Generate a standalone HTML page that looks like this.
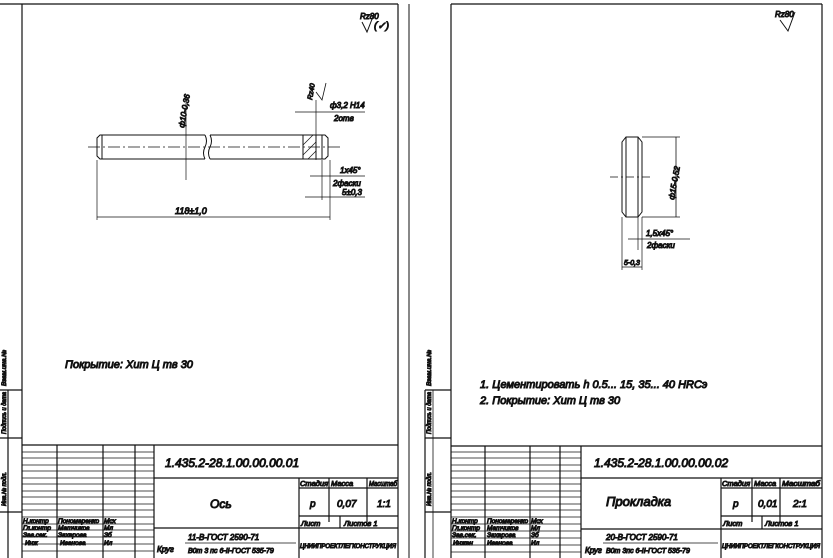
<!DOCTYPE html>
<html><head><meta charset="utf-8"><style>
html,body{margin:0;padding:0;background:#fff;}
svg{display:block;}
text{font-family:"Liberation Sans",sans-serif;font-style:italic;fill:#111;}
</style></head><body>
<svg width="833" height="558" viewBox="0 0 833 558" xmlns="http://www.w3.org/2000/svg" stroke="#111" fill="none">
<!-- LEFT SHEET -->
<g stroke-width="1.2">
<line x1="0" y1="4" x2="398" y2="4"/>
<line x1="22" y1="4" x2="22" y2="558"/>
<line x1="398" y1="4" x2="398" y2="558"/>
<line x1="409" y1="4" x2="409" y2="558" stroke-width="1"/>
<line x1="0" y1="390" x2="22" y2="390"/>
<line x1="8" y1="390" x2="8" y2="558"/>
<line x1="0" y1="438" x2="22" y2="438"/>
<line x1="0" y1="512" x2="22" y2="512"/>
<line x1="22" y1="445" x2="398" y2="445"/>
<line x1="57" y1="445" x2="57" y2="558"/>
<line x1="103" y1="445" x2="103" y2="558"/>
<line x1="135" y1="445" x2="135" y2="558"/>
<line x1="154" y1="445" x2="154" y2="558"/>
<line x1="154" y1="478" x2="398" y2="478"/>
<line x1="154" y1="528" x2="299" y2="528"/>
<line x1="299" y1="478" x2="299" y2="558"/>
<line x1="329" y1="478" x2="329" y2="522"/>
<line x1="367" y1="478" x2="367" y2="522"/>
<line x1="299" y1="488" x2="398" y2="488"/>
<line x1="299" y1="516" x2="398" y2="516"/>
<line x1="299" y1="528" x2="398" y2="528"/>
<line x1="340" y1="516" x2="340" y2="528"/>
</g>
<g stroke-width="0.8">
<line x1="22" y1="452" x2="154" y2="452"/><line x1="22" y1="458" x2="154" y2="458"/>
<line x1="22" y1="465" x2="154" y2="465"/><line x1="22" y1="471" x2="154" y2="471"/>
<line x1="22" y1="478" x2="154" y2="478"/><line x1="22" y1="484" x2="154" y2="484"/>
<line x1="22" y1="491" x2="154" y2="491"/><line x1="22" y1="497" x2="154" y2="497"/>
<line x1="22" y1="504" x2="154" y2="504"/><line x1="22" y1="510" x2="154" y2="510"/>
<line x1="22" y1="517" x2="154" y2="517"/><line x1="22" y1="524" x2="154" y2="524"/>
<line x1="22" y1="530" x2="154" y2="530"/><line x1="22" y1="537" x2="154" y2="537"/>
<line x1="22" y1="544" x2="154" y2="544"/><line x1="22" y1="551" x2="154" y2="551"/>
</g>
<text x="165" y="467" font-size="12">1.435.2-28.1.00.00.00.01</text>
<text x="210" y="508" font-size="12">Ось</text>
<text x="300" y="486" font-size="7.5">Стадия</text><text x="331" y="486" font-size="7.5">Масса</text><text x="369" y="486" font-size="7" textLength="28" lengthAdjust="spacingAndGlyphs">Масштаб</text>
<text x="310" y="507" font-size="10">р</text><text x="337" y="507" font-size="10">0,07</text><text x="377" y="507" font-size="10">1:1</text>
<text x="301" y="526" font-size="7.5">Лист</text><text x="344" y="526" font-size="7.5">Листов 1</text>
<text x="300" y="548" font-size="6" textLength="96" lengthAdjust="spacingAndGlyphs">ЦНИИПРОЕКТЛЕГКОНСТРУКЦИЯ</text>
<text x="157" y="552" font-size="8">Круг</text>
<text x="188" y="540" font-size="8">11-В-ГОСТ 2590-71</text>
<line x1="185" y1="543" x2="296" y2="543" stroke-width="0.8"/>
<text x="188" y="553" font-size="7">В0т 3 пс 6-II-ГОСТ 535-79</text>
<g font-size="6.5"><text x="23" y="523">Н.контр</text><text x="58" y="523">Пономаренко</text><text x="104" y="523">Мсх</text>
<text x="23" y="530">Гл.контр</text><text x="58" y="530">Матчиков</text><text x="104" y="530">Мл</text>
<text x="23" y="537">Зав.сек.</text><text x="58" y="537">Захарова</text><text x="104" y="537">Зб</text>
<text x="25" y="545">Инж</text><text x="60" y="545">Иванова</text><text x="104" y="545">Ил</text></g>
<g font-size="6"><text transform="translate(6,434) rotate(-90)" textLength="42" lengthAdjust="spacingAndGlyphs">Подпись и дата</text>
<text transform="translate(6,506) rotate(-90)" textLength="34" lengthAdjust="spacingAndGlyphs">Инв.№ подл.</text>
<text transform="translate(6,386) rotate(-90)" textLength="36" lengthAdjust="spacingAndGlyphs">Взам.инв.№</text></g>
<text x="360" y="19" font-size="8">Rz80</text>
<path d="M362 22 L367 32 L374 14" stroke-width="1"/>
<text x="374" y="29" font-size="10">(✓)</text>
<text x="65" y="368" font-size="11">Покрытие:  Хит Ц  тв 30</text>
<!-- shaft -->
<g stroke-width="1">
<path d="M205 135 L100 135 L97 138 L97 156 L100 159 L205 159"/>
<path d="M210 135 L325 135 L328 138 L328 156 L325 159 L210 159"/>
<path d="M205 135 q3 6 0 12 q-3 6 0 12 M210 135 q3 6 0 12 q-3 6 0 12"/>
<line x1="102" y1="135" x2="102" y2="159"/>
<line x1="322" y1="135" x2="322" y2="159"/>
<rect x="303" y="135" width="13" height="24"/>
<path d="M303 145 L313 135 M303 155 L316 142 M308 159 L316 151" stroke-width="0.7"/>
<line x1="88" y1="147" x2="340" y2="147" stroke-dasharray="12,3,2,3" stroke-width="0.7"/>
<line x1="186" y1="100" x2="186" y2="180" stroke-width="0.7"/>
<line x1="97" y1="160" x2="97" y2="220" stroke-width="0.7"/>
<line x1="330" y1="160" x2="330" y2="220" stroke-width="0.7"/>
<line x1="97" y1="217" x2="330" y2="217" stroke-width="0.8"/>
<line x1="316" y1="100" x2="316" y2="160" stroke-width="0.7"/>
<line x1="322" y1="160" x2="322" y2="200" stroke-width="0.7"/>
<line x1="295" y1="112" x2="365" y2="112" stroke-width="0.7"/>
<line x1="310" y1="176" x2="365" y2="176" stroke-width="0.7"/>
<line x1="305" y1="197" x2="365" y2="197" stroke-width="0.7"/>
<path d="M316 92 L322 100 L326 83" stroke-width="0.8"/>
</g>
<text x="175" y="214" font-size="9">118±1,0</text>
<text transform="translate(184,128) rotate(-80)" font-size="8">ф10-0,36</text>
<text transform="translate(312,100) rotate(-80)" font-size="7">Rz40</text>
<text x="330" y="108" font-size="8">ф3,2 H14</text>
<text x="334" y="121" font-size="8">2отв</text>
<text x="340" y="173" font-size="8">1x45°</text>
<text x="333" y="186" font-size="8">2фаски</text>
<text x="342" y="195" font-size="8">5±0,3</text>

<!-- RIGHT SHEET -->
<g stroke-width="1.2">
<line x1="451" y1="4" x2="822" y2="4"/>
<line x1="451" y1="4" x2="451" y2="558"/>
<line x1="822" y1="4" x2="822" y2="558"/>
<line x1="425" y1="390" x2="451" y2="390"/>
<line x1="425" y1="390" x2="425" y2="558"/>
<line x1="433" y1="390" x2="433" y2="558" stroke-width="0.8"/>
<line x1="425" y1="438" x2="451" y2="438"/>
<line x1="425" y1="512" x2="451" y2="512"/>
<line x1="451" y1="446" x2="822" y2="446"/>
<line x1="485" y1="446" x2="485" y2="558"/>
<line x1="530" y1="446" x2="530" y2="558"/>
<line x1="560" y1="446" x2="560" y2="558"/>
<line x1="581" y1="446" x2="581" y2="558"/>
<line x1="581" y1="478" x2="822" y2="478"/>
<line x1="581" y1="529" x2="721" y2="529"/>
<line x1="721" y1="478" x2="721" y2="558"/>
<line x1="752" y1="478" x2="752" y2="522"/>
<line x1="780" y1="478" x2="780" y2="522"/>
<line x1="721" y1="488" x2="822" y2="488"/>
<line x1="721" y1="516" x2="822" y2="516"/>
<line x1="721" y1="529" x2="822" y2="529"/>
<line x1="762" y1="516" x2="762" y2="529"/>
</g>
<g stroke-width="0.8">
<line x1="451" y1="452" x2="581" y2="452"/><line x1="451" y1="458" x2="581" y2="458"/>
<line x1="451" y1="465" x2="581" y2="465"/><line x1="451" y1="471" x2="581" y2="471"/>
<line x1="451" y1="478" x2="581" y2="478"/><line x1="451" y1="484" x2="581" y2="484"/>
<line x1="451" y1="491" x2="581" y2="491"/><line x1="451" y1="497" x2="581" y2="497"/>
<line x1="451" y1="504" x2="581" y2="504"/><line x1="451" y1="510" x2="581" y2="510"/>
<line x1="451" y1="517" x2="581" y2="517"/><line x1="451" y1="524" x2="581" y2="524"/>
<line x1="451" y1="531" x2="581" y2="531"/><line x1="451" y1="538" x2="581" y2="538"/>
<line x1="451" y1="545" x2="581" y2="545"/><line x1="451" y1="552" x2="581" y2="552"/>
</g>
<text x="594" y="467" font-size="12">1.435.2-28.1.00.00.00.02</text>
<text x="606" y="506" font-size="13">Прокладка</text>
<text x="722" y="486" font-size="7.5">Стадия</text><text x="754" y="486" font-size="7.5">Масса</text><text x="782" y="486" font-size="7" textLength="38" lengthAdjust="spacingAndGlyphs">Масштаб</text>
<text x="733" y="507" font-size="10">р</text><text x="758" y="507" font-size="10">0,01</text><text x="793" y="507" font-size="10">2:1</text>
<text x="723" y="526" font-size="7.5">Лист</text><text x="765" y="526" font-size="7.5">Листов 1</text>
<text x="722" y="548" font-size="6" textLength="98" lengthAdjust="spacingAndGlyphs">ЦНИИПРОЕКТЛЕГКОНСТРУКЦИЯ</text>
<text x="585" y="553" font-size="8">Круг</text>
<text x="606" y="540" font-size="8">20-В-ГОСТ 2590-71</text>
<line x1="603" y1="543" x2="718" y2="543" stroke-width="0.8"/>
<text x="606" y="553" font-size="7">В0т 3пс 6-II-ГОСТ 535-79</text>
<g font-size="6.5"><text x="452" y="523">Н.контр</text><text x="487" y="523">Пономаренко</text><text x="531" y="523">Мсх</text>
<text x="452" y="530">Гл.контр</text><text x="487" y="530">Матчиков</text><text x="531" y="530">Мл</text>
<text x="452" y="537">Зав.сек.</text><text x="487" y="537">Захарова</text><text x="531" y="537">Зб</text>
<text x="453" y="545">Инжен</text><text x="487" y="545">Иванова</text><text x="531" y="545">Ил</text></g>
<g font-size="6"><text transform="translate(431,434) rotate(-90)" textLength="42" lengthAdjust="spacingAndGlyphs">Подпись и дата</text>
<text transform="translate(431,506) rotate(-90)" textLength="34" lengthAdjust="spacingAndGlyphs">Инв.№ подл.</text>
<text transform="translate(431,386) rotate(-90)" textLength="36" lengthAdjust="spacingAndGlyphs">Взам.инв.№</text></g>
<text x="775" y="17" font-size="8">Rz80</text>
<path d="M780 20 L788 31 L795 12" stroke-width="1"/>
<text x="480" y="388" font-size="11">1. Цементировать   h 0.5... 15,  35... 40 HRCэ</text>
<text x="480" y="404" font-size="11">2. Покрытие: Хит Ц тв 30</text>
<!-- washer -->
<g stroke-width="1">
<path d="M626 137 L638 137 L642 142 L642 212 L638 217 L626 217 L622 212 L622 142 Z"/>
<line x1="626" y1="137" x2="626" y2="217"/>
<line x1="638" y1="137" x2="638" y2="217"/>
<line x1="610" y1="177" x2="650" y2="177" stroke-width="0.7" stroke-dasharray="8,3,2,3"/>
<line x1="642" y1="137" x2="680" y2="137" stroke-width="0.7"/>
<line x1="642" y1="217" x2="680" y2="217" stroke-width="0.7"/>
<line x1="676" y1="137" x2="676" y2="217" stroke-width="0.8"/>
<line x1="622" y1="217" x2="622" y2="270" stroke-width="0.7"/>
<line x1="642" y1="217" x2="642" y2="270" stroke-width="0.7"/>
<line x1="638" y1="217" x2="638" y2="250" stroke-width="0.7"/>
<line x1="628" y1="239" x2="690" y2="239" stroke-width="0.7"/>
<line x1="622" y1="267" x2="642" y2="267" stroke-width="0.7"/>
</g>
<text transform="translate(674,200) rotate(-80)" font-size="8">ф15-0,52</text>
<text x="646" y="236" font-size="8">1,5x45°</text>
<text x="647" y="248" font-size="8">2фаски</text>
<text x="624" y="265" font-size="7">5-0,3</text>
</svg>
</body></html>
